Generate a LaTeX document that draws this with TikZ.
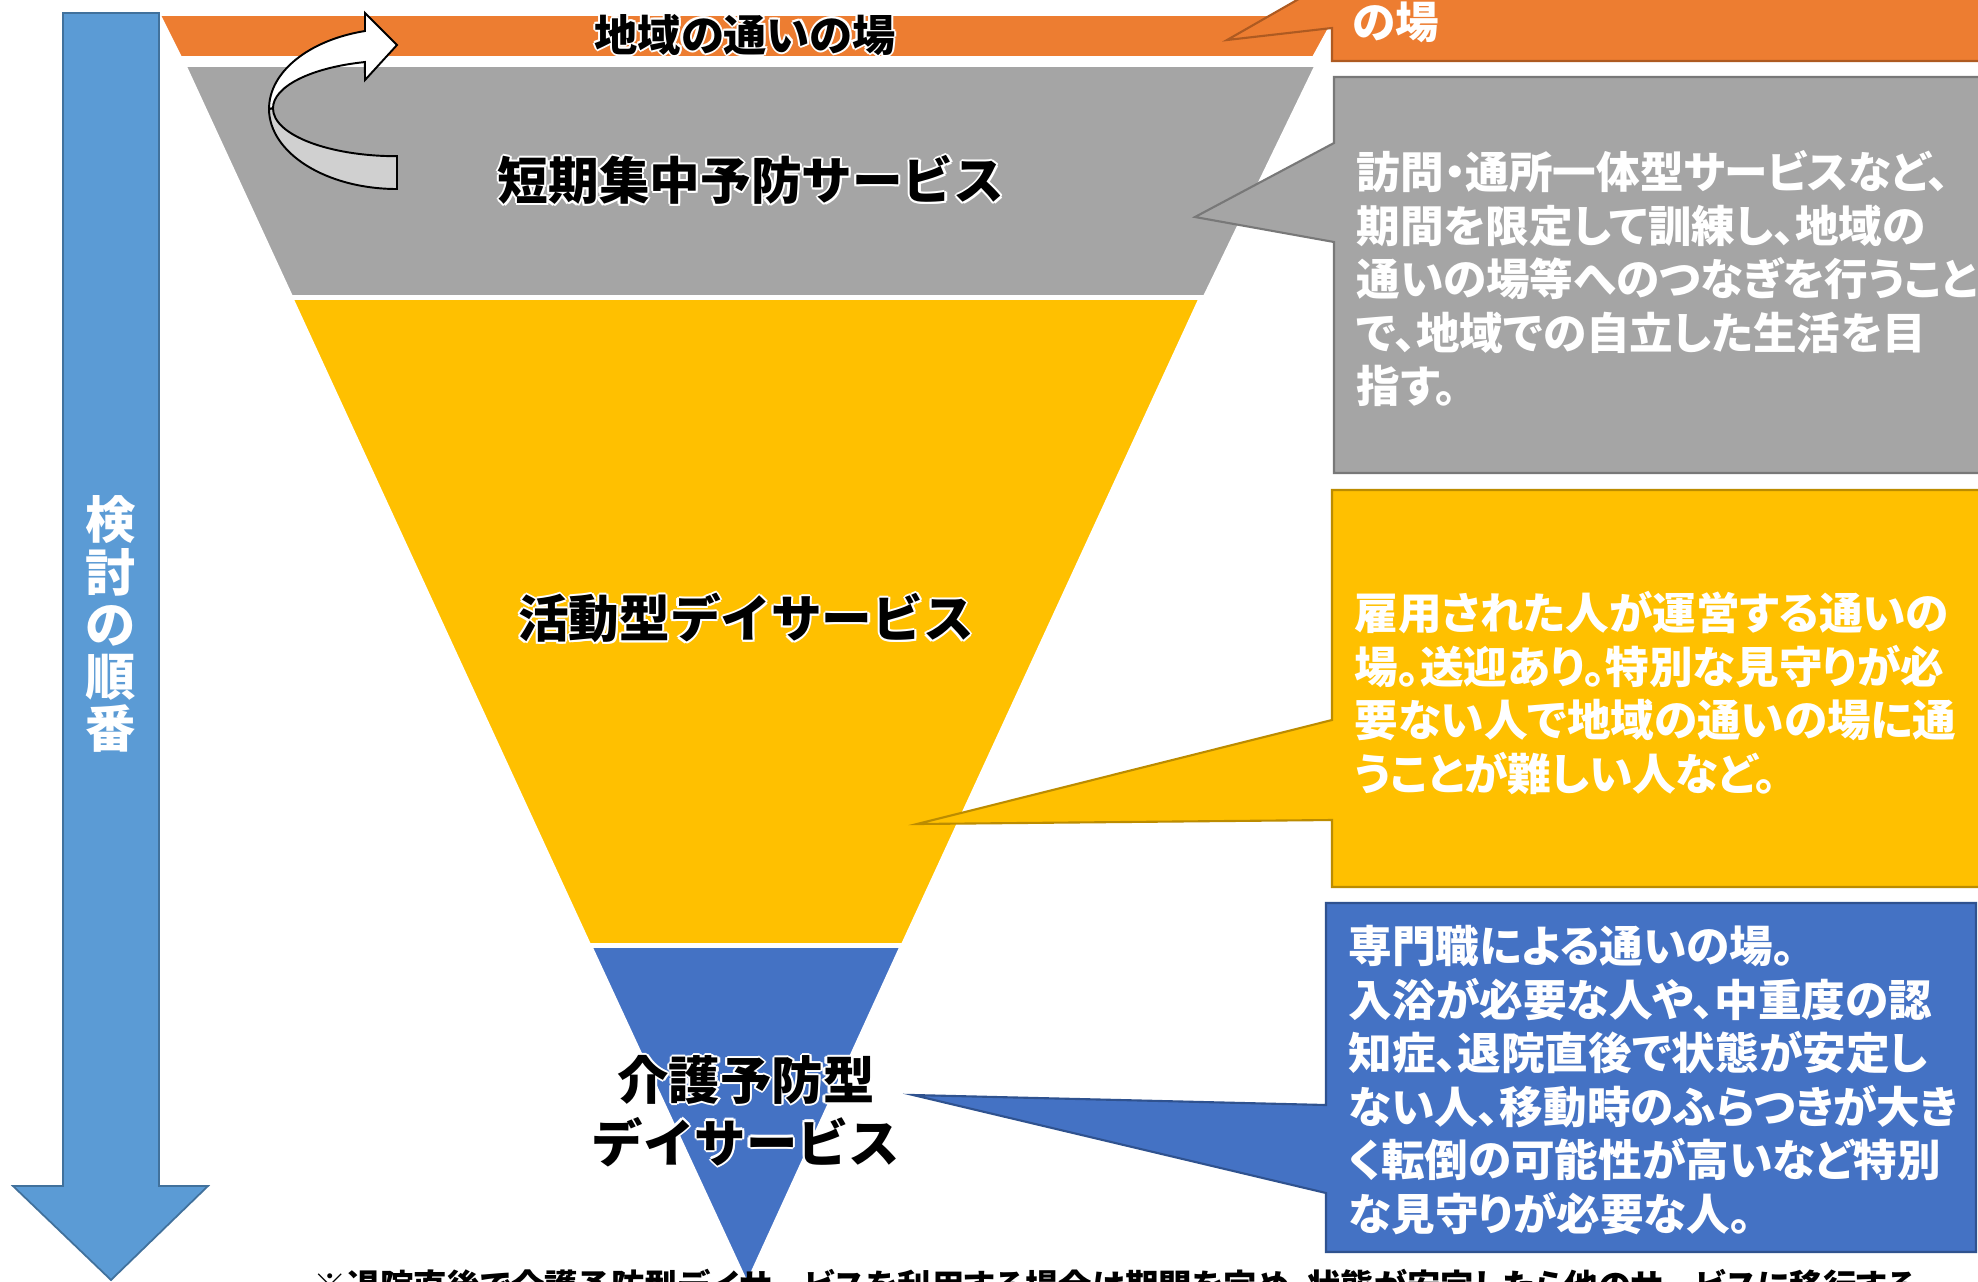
\documentclass[tikz,border=0pt]{standalone}
\usepackage{fontspec}
\newfontfamily\jp[RawFeature=+palt]{Noto Sans CJK JP}
\newfontfamily\jpf{Noto Sans CJK JP}
\usetikzlibrary{calc}
\definecolor{orF}{HTML}{ED7D31}\definecolor{orD}{HTML}{AE5A21}
\definecolor{grF}{HTML}{A5A5A5}\definecolor{grD}{HTML}{787878}
\definecolor{yeF}{HTML}{FFC000}\definecolor{yeD}{HTML}{BC8C00}
\definecolor{blF}{HTML}{4472C4}\definecolor{blD}{HTML}{2F528F}
\definecolor{arF}{HTML}{5B9BD5}\definecolor{arD}{HTML}{41719C}
\definecolor{bendG}{HTML}{D0D0D0}
\tikzset{
  slice/.style={draw=white, line width=0.45pt},
  callout/.style={line width=0.6pt, line join=miter},
  ctext/.style={anchor=base west, inner sep=0pt, align=left, text=white,
    font=\jp\bfseries\fontsize{12.4}{15.2}\selectfont},
  lbl/.style={inner sep=0pt, align=center,
    font=\jpf\bfseries\fontsize{14.4}{17.6}\selectfont},
  bandlbl/.style={inner sep=0pt, font=\jp\bfseries\fontsize{12.3}{14}\selectfont},
}
\newcommand\halonode[4]{%
  \foreach \ang [count=\k] in {0,45,...,315}{%
    \node[#3,text=white,name=#1-h\k] at ($#2+(\ang:2.1)$) {#4};
  }%
  \node[#3,text=black,name=#1] at #2 {#4};
}
\begin{document}
\begin{tikzpicture}[x=0.01cm,y=-0.01cm]
\useasboundingbox (0,0) rectangle (1978,1281);
\fill[white] (0,0) rectangle (1978,1281);

% funnel slices
\filldraw[slice, fill=orF] (160,15) -- (1336,15) -- (1313,57) -- (181,57) -- cycle;
\filldraw[slice, fill=grF] (186,66) -- (1315,66) -- (1204,296) -- (292,296) -- cycle;
\filldraw[slice, fill=yeF] (293,299) -- (1199,299) -- (902,944) -- (590,944) -- cycle;
\filldraw[slice, fill=blF] (592,947) -- (900,947) -- (747,1282) -- cycle;

% left arrow
\filldraw[fill=arF, draw=arD, line width=0.5pt, line join=miter]
  (63,13) -- (159,13) -- (159,1186) -- (208,1186) -- (111,1280) -- (13,1186) -- (63,1186) -- cycle;
\node[inner sep=0pt, align=center, text=white, font=\jpf\bfseries\fontsize{14.3}{14.8}\selectfont]
  (order) at (111,624) {検\\討\\の\\順\\番};

% bent arrow
\filldraw[fill=bendG, draw=black, line width=0.55pt]
  (269,108.7) arc[start angle=180, end angle=90, x radius=128, y radius=80.3]
  -- (397,156.2) arc[start angle=90, end angle=180, x radius=124, y radius=47.8] -- cycle;
\filldraw[fill=white, draw=black, line width=0.55pt, line join=miter]
  (365,31) arc[start angle=255.5, end angle=180, x radius=128, y radius=80.3]
  -- (273,108.2) arc[start angle=180, end angle=255, x radius=124, y radius=47.8]
  -- (365,80) -- (397,45) -- (365,13) -- cycle;

% callouts
\filldraw[callout, fill=orF, draw=orD]
  (1332,-60) -- (1332,-20) -- (1227,40) -- (1332,28) -- (1332,61) -- (2050,61) -- (2050,-60) -- cycle;
\filldraw[callout, fill=grF, draw=grD]
  (1334,77) -- (2050,77) -- (2050,473) -- (1334,473) -- (1334,242) -- (1195,217) -- (1334,143) -- cycle;
\filldraw[callout, fill=yeF, draw=yeD]
  (1332,490) -- (2050,490) -- (2050,887) -- (1332,887) -- (1332,820) -- (917,824) -- (1332,720) -- cycle;
\filldraw[callout, fill=blF, draw=blD]
  (1326,903) -- (1976,903) -- (1976,1252) -- (1326,1252) -- (1326,1193) -- (913,1095) -- (1326,1105) -- cycle;

% callout texts (anchored at the baseline of the last line)
\node[ctext] (torange) at (1352,38) {の場};
\node[ctext] (tgray) at (1356,402.6) {訪問・通所一体型サービスなど、\\期間を限定して訓練し、地域の\\通いの場等へのつなぎを行うこと\\で、地域での自立した生活を目\\指す。};
\node[ctext] (tyellow) at (1354,790) {雇用された人が運営する通いの\\場。送迎あり。特別な見守りが必\\要ない人で地域の通いの場に通\\うことが難しい人など。};
\node[ctext] (tblue) at (1348,1230) {専門職による通いの場。\\入浴が必要な人や、中重度の認\\知症、退院直後で状態が安定し\\ない人、移動時のふらつきが大き\\く転倒の可能性が高いなど特別\\な見守りが必要な人。};

% funnel labels
\halonode{lband}{(745,35)}{bandlbl}{地域の通いの場}
\halonode{lshort}{(751,180)}{lbl}{短期集中予防サービス}
\halonode{lact}{(746,618)}{lbl}{活動型デイサービス}
\halonode{lcare}{(746,1111)}{lbl,font=\jpf\bfseries\fontsize{14.6}{17.8}\selectfont}{介護予防型\\デイサービス}

% bottom note
\node[anchor=base west, inner sep=0pt, font=\jp\bfseries\fontsize{9.5}{11}\selectfont] (note)
  at (313,1298) {※退院直後で介護予防型デイサービスを利用する場合は期間を定め、状態が安定したら他のサービスに移行する。};
\end{tikzpicture}
\end{document}
